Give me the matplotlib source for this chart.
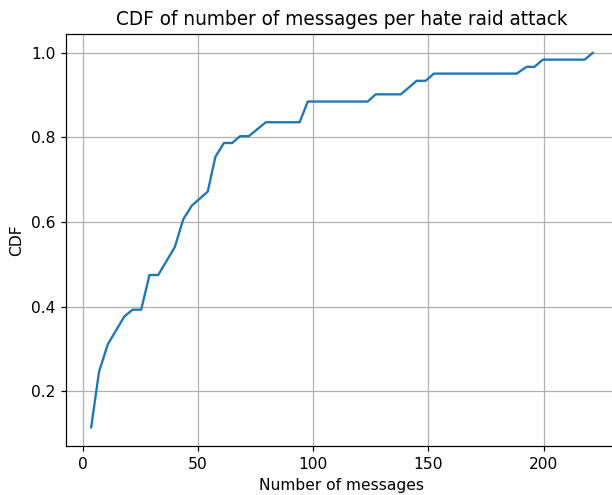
import numpy as np
import matplotlib
matplotlib.use('Agg')
import matplotlib.pyplot as plt

# number of messages per attack (x) and cumulative fraction (y)
messages = [3.6, 7.0, 10.8, 18.0, 21.6, 25.3, 28.9, 32.7, 39.9, 43.6, 47.3, 54.2,
            57.5, 61.2, 64.8, 68.2, 72.0, 79.4, 94.1, 97.6, 123.6, 127.1, 138.0,
            144.9, 148.8, 152.3, 188.3, 192.6, 196.0, 199.6, 217.8, 221.3]
cdf = [0.115, 0.246, 0.311, 0.377, 0.393, 0.393, 0.475, 0.475, 0.541, 0.607, 0.639, 0.672,
       0.754, 0.787, 0.787, 0.803, 0.803, 0.836, 0.836, 0.885, 0.885, 0.902, 0.902,
       0.934, 0.934, 0.951, 0.951, 0.967, 0.967, 0.984, 0.984, 1.0]

dpi = 111.3
fig, ax = plt.subplots(figsize=(612 / dpi, 495 / dpi), dpi=dpi)
# the original was cropped: the right spine falls just outside the image
fig.subplots_adjust(left=0.108, right=1.0095, top=0.931, bottom=0.099)
ax.plot(messages, cdf)
ax.set_title('CDF of number of messages per hate raid attack')
ax.set_xlabel('Number of messages')
ax.set_ylabel('CDF')
ax.grid(True)
fig.savefig('out.png', dpi=dpi)
